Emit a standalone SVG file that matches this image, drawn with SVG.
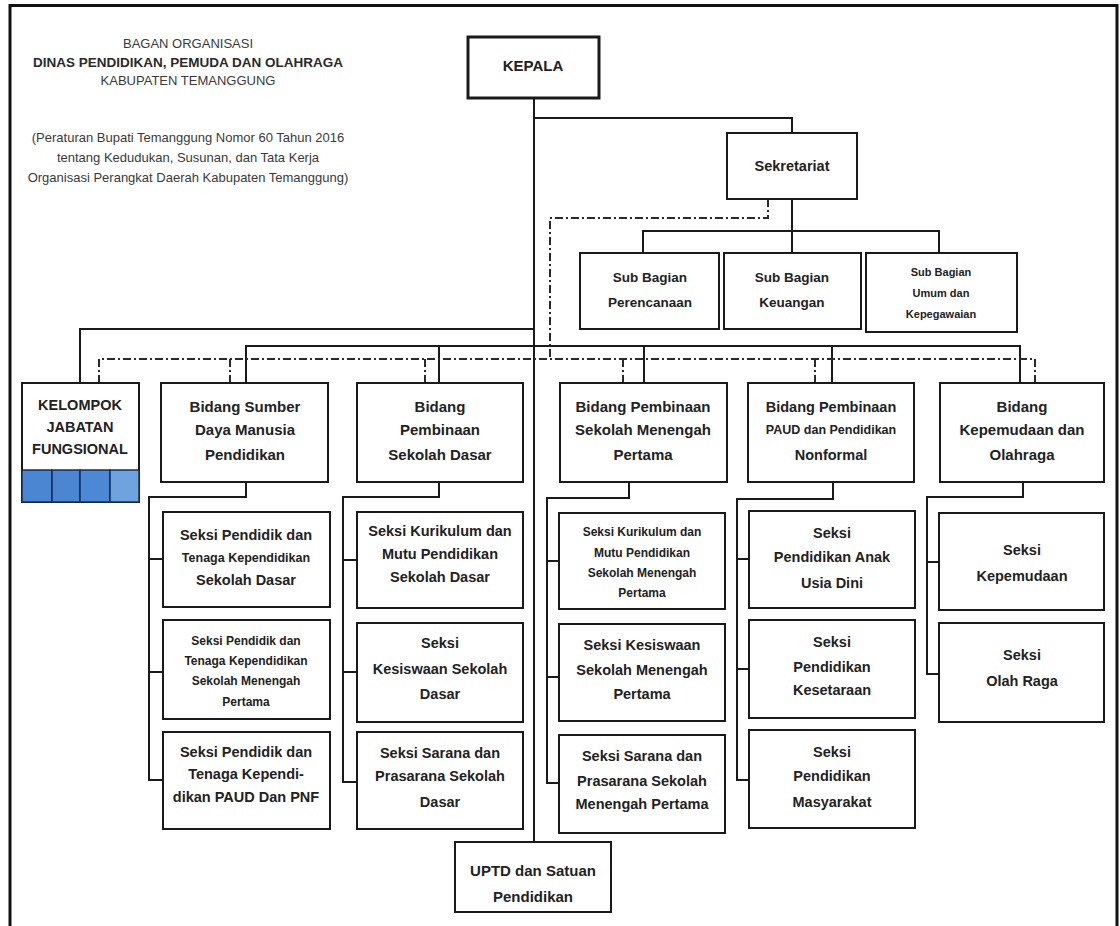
<svg xmlns="http://www.w3.org/2000/svg" width="1120" height="926" viewBox="0 0 1120 926">
  <style>
    .bg { fill: #ffffff; }
    .frame { stroke: #111; stroke-width: 3; fill: none; }
    .box { fill: #ffffff; stroke: #1a1a1a; stroke-width: 2; }
    .box-head { fill: #ffffff; stroke: #1a1a1a; stroke-width: 3; }
    .ln { stroke: #1a1a1a; stroke-width: 2; fill: none; }
    .dd { stroke: #2a2a2a; stroke-width: 2; fill: none; stroke-dasharray: 8 3 2 3; }
    .cell { stroke: #1b2c57; stroke-width: 1.5; }
    text { font-family: "Liberation Sans", Arial, Helvetica, sans-serif; text-anchor: middle; fill: #222; }
    .hd { font-size: 13px; fill: #3a3a3a; }
    .hdb { font-size: 13.5px; font-weight: bold; fill: #2a2a2a; }
    .t15 { font-size: 15px; font-weight: bold; }
    .t14 { font-size: 14.5px; font-weight: bold; }
    .t13 { font-size: 13.5px; font-weight: bold; }
    .t125 { font-size: 12.5px; font-weight: bold; }
    .t12 { font-size: 12px; font-weight: bold; }
    .t11 { font-size: 11px; font-weight: bold; }
  </style>

  <rect class="bg" x="0" y="0" width="1120" height="926"/>

  <!-- outer frame: top, left and right edges -->
  <path class="frame" d="M10,926 V5.5 H1117 V926"/>

  <!-- title block -->
  <g id="title">
    <text class="hd" x="188" y="48">BAGAN ORGANISASI</text>
    <text class="hdb" x="188" y="67">DINAS PENDIDIKAN, PEMUDA DAN OLAHRAGA</text>
    <text class="hd" x="188" y="85">KABUPATEN TEMANGGUNG</text>
    <text class="hd" x="188" y="142">(Peraturan Bupati Temanggung Nomor 60 Tahun 2016</text>
    <text class="hd" x="188" y="162">tentang Kedudukan, Susunan, dan Tata Kerja</text>
    <text class="hd" x="188" y="182">Organisasi Perangkat Daerah Kabupaten Temanggung)</text>
  </g>

  <!-- connectors -->
  <g id="connectors">
    <!-- main spine from Kepala down to UPTD -->
    <path class="ln" d="M534,98 V842"/>
    <!-- Kepala to Sekretariat -->
    <path class="ln" d="M534,118 H792 V133"/>
    <!-- Sekretariat to sub bagian -->
    <path class="ln" d="M792,199 V253"/>
    <path class="ln" d="M643,253 V231 H939 V253"/>
    <!-- Kelompok jabatan fungsional -->
    <path class="ln" d="M534,329 H80 V383"/>
    <!-- bidang bus -->
    <path class="ln" d="M246,383 V346 H1020 V383"/>
    <path class="ln" d="M439,346 V383"/>
    <path class="ln" d="M644,346 V383"/>
    <path class="ln" d="M832,346 V383"/>

    <!-- coordination lines (dash-dot) -->
    <path class="dd" d="M768,199 V218 H550 V359"/>
    <path class="dd" d="M99,383 V359 H1035 V383"/>
    <path class="dd" d="M230,359 V383"/>
    <path class="dd" d="M425,359 V383"/>
    <path class="dd" d="M623,359 V383"/>
    <path class="dd" d="M815,359 V383"/>

    <!-- seksi brackets: Bidang SDM Pendidikan -->
    <path class="ln" d="M246,482 V497 H149 V780 H163"/>
    <path class="ln" d="M149,559 H163 M149,672 H163"/>
    <!-- Bidang Pembinaan Sekolah Dasar -->
    <path class="ln" d="M439,482 V497 H343 V782 H357"/>
    <path class="ln" d="M343,560 H357 M343,672 H357"/>
    <!-- Bidang Pembinaan SMP -->
    <path class="ln" d="M629,482 V498 H547 V783 H559"/>
    <path class="ln" d="M547,561 H559 M547,677 H559"/>
    <!-- Bidang PAUD dan Nonformal -->
    <path class="ln" d="M833,482 V499 H737 V780 H749"/>
    <path class="ln" d="M737,559 H749 M737,669 H749"/>
    <!-- Bidang Kepemudaan dan Olahraga -->
    <path class="ln" d="M1023,482 V497 H927 V674 H939"/>
    <path class="ln" d="M927,562 H939"/>
  </g>

  <!-- top level -->
  <g id="kepala">
    <rect class="box-head" x="468" y="37" width="131" height="61"/>
    <text class="t15" x="533" y="71">KEPALA</text>
  </g>
  <g id="sekretariat">
    <rect class="box" x="727" y="133" width="130" height="66"/>
    <text class="t14" x="792" y="171">Sekretariat</text>
  </g>
  <g id="subbag-perencanaan">
    <rect class="box" x="580" y="253" width="139" height="76"/>
    <text class="t13" x="650" y="282">Sub Bagian</text>
    <text class="t13" x="650" y="307">Perencanaan</text>
  </g>
  <g id="subbag-keuangan">
    <rect class="box" x="724" y="253" width="137" height="76"/>
    <text class="t13" x="792" y="282">Sub Bagian</text>
    <text class="t13" x="792" y="307">Keuangan</text>
  </g>
  <g id="subbag-umum">
    <rect class="box" x="866" y="253" width="151" height="79"/>
    <text class="t11" x="941" y="276">Sub Bagian</text>
    <text class="t11" x="941" y="297">Umum dan</text>
    <text class="t11" x="941" y="318">Kepegawaian</text>
  </g>

  <!-- bidang row -->
  <g id="kelompok-jabfung">
    <rect class="box" x="22" y="383" width="117" height="119"/>
    <rect class="cell" x="22" y="470" width="30" height="32" fill="#4a86d2"/>
    <rect class="cell" x="52" y="470" width="28" height="32" fill="#4a86d2"/>
    <rect class="cell" x="80" y="470" width="30" height="32" fill="#4c89d4"/>
    <rect class="cell" x="110" y="470" width="29" height="32" fill="#6fa3de"/>
    <text class="t14" x="80" y="410">KELOMPOK</text>
    <text class="t14" x="80" y="432">JABATAN</text>
    <text class="t14" x="80" y="454">FUNGSIONAL</text>
  </g>
  <g id="bidang-sdm">
    <rect class="box" x="161" y="383" width="167" height="99"/>
    <text class="t15" x="245" y="412">Bidang Sumber</text>
    <text class="t15" x="245" y="435">Daya Manusia</text>
    <text class="t15" x="245" y="460">Pendidikan</text>
  </g>
  <g id="bidang-sd">
    <rect class="box" x="357" y="383" width="166" height="99"/>
    <text class="t15" x="440" y="412">Bidang</text>
    <text class="t15" x="440" y="435">Pembinaan</text>
    <text class="t15" x="440" y="460">Sekolah Dasar</text>
  </g>
  <g id="bidang-smp">
    <rect class="box" x="560" y="383" width="167" height="99"/>
    <text class="t15" x="643" y="412">Bidang Pembinaan</text>
    <text class="t15" x="643" y="435">Sekolah Menengah</text>
    <text class="t15" x="643" y="460">Pertama</text>
  </g>
  <g id="bidang-paud">
    <rect class="box" x="748" y="383" width="166" height="99"/>
    <text class="t14" x="831" y="412">Bidang Pembinaan</text>
    <text class="t125" x="831" y="434">PAUD dan Pendidikan</text>
    <text class="t14" x="831" y="460">Nonformal</text>
  </g>
  <g id="bidang-kepemudaan">
    <rect class="box" x="940" y="383" width="164" height="99"/>
    <text class="t15" x="1022" y="412">Bidang</text>
    <text class="t15" x="1022" y="435">Kepemudaan dan</text>
    <text class="t15" x="1022" y="460">Olahraga</text>
  </g>

  <!-- seksi under Bidang SDM Pendidikan -->
  <g id="seksi-ptk-sd">
    <rect class="box" x="163" y="512" width="167" height="95"/>
    <text class="t14" x="246" y="540">Seksi Pendidik dan</text>
    <text class="t125" x="246" y="562">Tenaga Kependidikan</text>
    <text class="t14" x="246" y="585">Sekolah Dasar</text>
  </g>
  <g id="seksi-ptk-smp">
    <rect class="box" x="163" y="620" width="167" height="99"/>
    <text class="t12" x="246" y="645">Seksi Pendidik dan</text>
    <text class="t12" x="246" y="665">Tenaga Kependidikan</text>
    <text class="t12" x="246" y="685">Sekolah Menengah</text>
    <text class="t12" x="246" y="706">Pertama</text>
  </g>
  <g id="seksi-ptk-paud">
    <rect class="box" x="163" y="732" width="167" height="97"/>
    <text class="t14" x="246" y="757">Seksi Pendidik dan</text>
    <text class="t14" x="246" y="779">Tenaga Kependi-</text>
    <text class="t14" x="246" y="802">dikan PAUD Dan PNF</text>
  </g>

  <!-- seksi under Bidang Pembinaan Sekolah Dasar -->
  <g id="seksi-kurikulum-sd">
    <rect class="box" x="357" y="512" width="166" height="96"/>
    <text class="t14" x="440" y="536">Seksi Kurikulum dan</text>
    <text class="t14" x="440" y="559">Mutu Pendidikan</text>
    <text class="t14" x="440" y="582">Sekolah Dasar</text>
  </g>
  <g id="seksi-kesiswaan-sd">
    <rect class="box" x="357" y="623" width="166" height="99"/>
    <text class="t14" x="440" y="648">Seksi</text>
    <text class="t14" x="440" y="674">Kesiswaan Sekolah</text>
    <text class="t14" x="440" y="699">Dasar</text>
  </g>
  <g id="seksi-sarpras-sd">
    <rect class="box" x="357" y="732" width="166" height="97"/>
    <text class="t14" x="440" y="758">Seksi Sarana dan</text>
    <text class="t14" x="440" y="781">Prasarana Sekolah</text>
    <text class="t14" x="440" y="807">Dasar</text>
  </g>

  <!-- seksi under Bidang Pembinaan SMP -->
  <g id="seksi-kurikulum-smp">
    <rect class="box" x="559" y="513" width="166" height="96"/>
    <text class="t12" x="642" y="536">Seksi Kurikulum dan</text>
    <text class="t12" x="642" y="557">Mutu Pendidikan</text>
    <text class="t12" x="642" y="577">Sekolah Menengah</text>
    <text class="t12" x="642" y="597">Pertama</text>
  </g>
  <g id="seksi-kesiswaan-smp">
    <rect class="box" x="559" y="624" width="166" height="97"/>
    <text class="t14" x="642" y="650">Seksi Kesiswaan</text>
    <text class="t14" x="642" y="675">Sekolah Menengah</text>
    <text class="t14" x="642" y="699">Pertama</text>
  </g>
  <g id="seksi-sarpras-smp">
    <rect class="box" x="559" y="735" width="166" height="98"/>
    <text class="t14" x="642" y="761">Seksi Sarana dan</text>
    <text class="t14" x="642" y="786">Prasarana Sekolah</text>
    <text class="t14" x="642" y="809">Menengah Pertama</text>
  </g>

  <!-- seksi under Bidang PAUD dan Nonformal -->
  <g id="seksi-paud">
    <rect class="box" x="749" y="511" width="166" height="97"/>
    <text class="t14" x="832" y="538">Seksi</text>
    <text class="t14" x="832" y="562">Pendidikan Anak</text>
    <text class="t14" x="832" y="588">Usia Dini</text>
  </g>
  <g id="seksi-kesetaraan">
    <rect class="box" x="749" y="620" width="166" height="98"/>
    <text class="t14" x="832" y="647">Seksi</text>
    <text class="t14" x="832" y="672">Pendidikan</text>
    <text class="t14" x="832" y="695">Kesetaraan</text>
  </g>
  <g id="seksi-masyarakat">
    <rect class="box" x="749" y="730" width="166" height="98"/>
    <text class="t14" x="832" y="757">Seksi</text>
    <text class="t14" x="832" y="781">Pendidikan</text>
    <text class="t14" x="832" y="807">Masyarakat</text>
  </g>

  <!-- seksi under Bidang Kepemudaan dan Olahraga -->
  <g id="seksi-kepemudaan">
    <rect class="box" x="939" y="513" width="165" height="97"/>
    <text class="t14" x="1022" y="555">Seksi</text>
    <text class="t14" x="1022" y="581">Kepemudaan</text>
  </g>
  <g id="seksi-olahraga">
    <rect class="box" x="939" y="623" width="165" height="99"/>
    <text class="t14" x="1022" y="660">Seksi</text>
    <text class="t14" x="1022" y="686">Olah Raga</text>
  </g>

  <!-- UPTD -->
  <g id="uptd">
    <rect class="box" x="455" y="842" width="156" height="70"/>
    <text class="t15" x="533" y="876">UPTD dan Satuan</text>
    <text class="t15" x="533" y="902">Pendidikan</text>
  </g>
</svg>
